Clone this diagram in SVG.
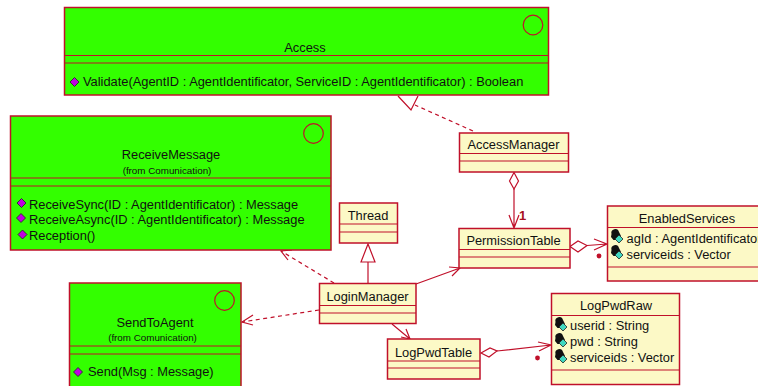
<svg xmlns="http://www.w3.org/2000/svg" xmlns:xlink="http://www.w3.org/1999/xlink" width="758" height="386" viewBox="0 0 758 386">
<style>
text{font-family:"Liberation Sans",Arial,sans-serif;font-size:12.85px;fill:#111}
.m{text-anchor:middle}
.s{font-size:9.8px}
.box{stroke:#c0102a;stroke-width:1.5}
.g{fill:#33ff00}
.y{fill:#fcf9c6}
.l{stroke:#c0102a;stroke-width:1.2;fill:none}
.d{stroke-dasharray:4 3.5}
.w{fill:#fff}
</style>
<defs>
<path id="op" d="M0-4.500 4.500 0 0 4.500-4.500 0Z" fill="#c000e0" stroke="#222" stroke-width=".8"/>
<g id="attr">
<path d="M-4.500-3a3.800 3.800 0 0 1 7.500-2L5 -1 2 3-2.500 3-5 0Z" fill="#111"/>
<path d="M3-2 7 2 3 6-1 2Z" fill="#40d8c0" stroke="#222" stroke-width=".8"/>
</g>
</defs>
<g id="connectors">
<path class="l d" d="M473 131 415 105"/>
<path class="l w" d="M398 96 411 110 418 96"/>
<path class="l" d="M514 189V228M509 215 514 228 519 215"/>
<path class="l w" d="M514 172.500 518.500 181 514 189 509.500 181Z"/>
<path class="l d" d="M334 283 281 251"/>
<path class="l" d="M292 250 281 251 288 260"/>
<path class="l" d="M368 283V262"/>
<path class="l w" d="M368 244 375 262H361Z"/>
<path class="l d" d="M319 310 242 322"/>
<path class="l" d="M253 315 242 322 253 325"/>
<path class="l" d="M416 284 460 268M449 267 460 268 452 276"/>
<path class="l" d="M392 324 410 339M401 337 410 339 406 329"/>
<path class="l" d="M587 245.500 607 244M594 239 607 244 594 250"/>
<path class="l w" d="M570 246.500 578 241 587 245.500 578 252Z"/>
<path class="l" d="M497 351 551 345M538 342 551 345 539 351"/>
<path class="l w" d="M481 353 490 348 497 351 489 357Z"/>
<text x="519" y="220" style="font-weight:bold;fill:#a81020;font-size:13px">1</text>
<circle cx="599" cy="256" r="2.400" fill="#c0102a"/>
<circle cx="537.500" cy="358" r="2.400" fill="#c0102a"/>
</g>
<g id="access">
<rect class="box g" x="64.500" y="7.500" width="484" height="87.500"/>
<path class="l" d="M64.500 55.500H548.500M64.500 63H548.500"/>
<circle class="l" cx="533" cy="25" r="9.800"/>
<text class="m" x="305" y="52">Access</text>
<use xlink:href="#op" href="#op" x="74.500" y="82"/>
<text x="83" y="86">Validate(AgentID : AgentIdentificator, ServiceID : AgentIdentificator) : Boolean</text>
</g>
<g id="receive-message">
<rect class="box g" x="10.500" y="116" width="320.500" height="134"/>
<path class="l" d="M10.500 178H331M10.500 186H331"/>
<circle class="l" cx="313.500" cy="133.500" r="9.800"/>
<text class="m" x="171" y="159">ReceiveMessage</text>
<text class="m s" x="167" y="174">(from Comunication)</text>
<use xlink:href="#op" href="#op" x="21.500" y="203"/>
<text x="29" y="209">ReceiveSync(ID : AgentIdentificator) : Message</text>
<use xlink:href="#op" href="#op" x="21" y="218"/>
<text x="29" y="224">ReceiveAsync(ID : AgentIdentificator) : Message</text>
<use xlink:href="#op" href="#op" x="22.500" y="234.500"/>
<text x="29" y="240">Reception()</text>
</g>
<g id="send-to-agent">
<rect class="box g" x="69.500" y="283" width="171.500" height="104"/>
<path class="l" d="M69.500 346H241M69.500 354H241"/>
<circle class="l" cx="224.500" cy="300.500" r="9.800"/>
<text class="m" x="155" y="327">SendToAgent</text>
<text class="m s" x="152.500" y="341">(from Comunication)</text>
<use xlink:href="#op" href="#op" x="78" y="372"/>
<text x="88" y="376">Send(Msg : Message)</text>
</g>
<g id="thread">
<rect class="box y" x="339.500" y="203" width="58" height="40"/>
<path class="l" d="M339.500 224H397.500M339.500 232H397.500"/>
<text class="m" x="368" y="220">Thread</text>
</g>
<g id="login-manager">
<rect class="box y" x="319.500" y="283.500" width="96.500" height="40"/>
<path class="l" d="M319.500 305.500H416M319.500 313H416"/>
<text class="m" x="367.500" y="301">LoginManager</text>
</g>
<g id="access-manager">
<rect class="box y" x="459.500" y="133" width="109" height="39"/>
<path class="l" d="M459.500 153.500H568.500M459.500 161H568.500"/>
<text class="m" x="513.500" y="149">AccessManager</text>
</g>
<g id="permission-table">
<rect class="box y" x="459" y="228.500" width="111" height="39.500"/>
<path class="l" d="M459 249.500H570M459 257H570"/>
<text class="m" x="513.500" y="245">PermissionTable</text>
</g>
<g id="enabled-services">
<rect class="box y" x="607.500" y="206" width="155" height="75"/>
<path class="l" d="M607.500 227.500H762M607.500 267H762"/>
<text class="m" x="687" y="223">EnabledServices</text>
<use xlink:href="#attr" href="#attr" x="616" y="237"/>
<text x="626.500" y="242.500">agId : AgentIdentificator</text>
<use xlink:href="#attr" href="#attr" x="616" y="253"/>
<text x="626.500" y="258.500">serviceids : Vector</text>
</g>
<g id="log-pwd-table">
<rect class="box y" x="387.500" y="339" width="92.500" height="40"/>
<path class="l" d="M387.500 361H480M387.500 368H480"/>
<text class="m" x="433.500" y="357">LogPwdTable</text>
</g>
<g id="log-pwd-raw">
<rect class="box y" x="551.500" y="293.500" width="128" height="91"/>
<path class="l" d="M551.500 315.500H679.500M551.500 370H679.500"/>
<text class="m" x="616" y="310">LogPwdRaw</text>
<use xlink:href="#attr" href="#attr" x="560" y="325"/>
<text x="570" y="330">userid : String</text>
<use xlink:href="#attr" href="#attr" x="560" y="341"/>
<text x="570" y="346">pwd : String</text>
<use xlink:href="#attr" href="#attr" x="560" y="357"/>
<text x="570" y="362">serviceids : Vector</text>
</g>
</svg>
